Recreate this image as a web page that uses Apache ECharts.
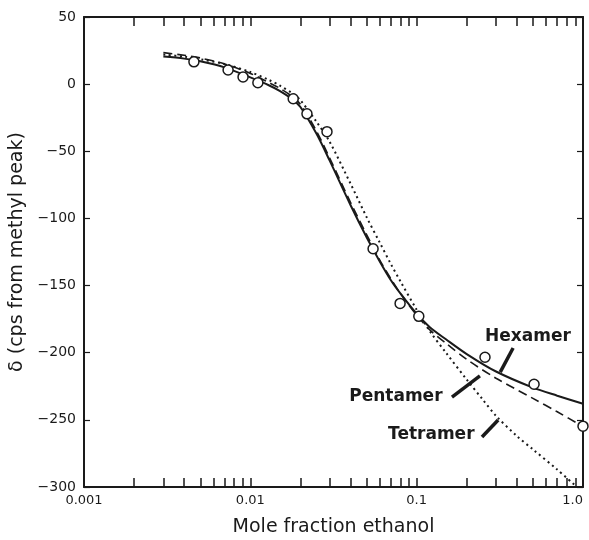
<!DOCTYPE html>
<html>
<head>
<meta charset="utf-8">
<script src="https://cdn.jsdelivr.net/npm/echarts@6/dist/echarts.min.js"></script>
<style>
  html, body { margin: 0; padding: 0; background: #fff; }
  #chart { width: 589px; height: 540px; }
</style>
</head>
<body>
<div id="chart"></div>
<script>
// measured points (open circles)
const obsX = [0.00458, 0.00735, 0.00904, 0.0111, 0.0181, 0.0219, 0.0289, 0.0547, 0.0795, 0.103, 0.2575, 0.508, 1.0]
const obsY = [16.6, 10.6, 5.4, 1.0, -10.9, -22.1, -35.4, -122.6, -163.3, -172.9, -203.4, -223.5, -254.7]

// model curves
const curveX = [0.003, 0.004, 0.005, 0.007, 0.01, 0.013, 0.015, 0.018, 0.02, 0.025, 0.03, 0.04, 0.05, 0.06, 0.07, 0.08, 0.1, 0.12, 0.15, 0.2, 0.3, 0.5, 0.7, 1.0]
const hexamer = [20.5, 19, 17, 12.5, 5, -1, -5, -11.5, -17, -37, -57, -90, -114, -132, -146, -156, -171, -181, -190, -201, -214, -226, -232, -238]
const pentamer = [23.5, 21.5, 19.5, 15, 8, 1, -3, -9.5, -15, -35, -55, -88, -112, -131, -145, -156, -172, -183, -193, -205, -219, -234, -244, -255]
const tetraX = [0.003, 0.004, 0.005, 0.007, 0.01, 0.013, 0.015, 0.018, 0.02, 0.025, 0.03, 0.04, 0.05, 0.06, 0.07, 0.08, 0.1, 0.12, 0.15, 0.2, 0.25, 0.3, 0.4, 0.5, 0.7, 0.9]
const tetramer = [22, 20.5, 18.5, 15, 9, 3, -1, -7, -12, -28, -43, -74, -99, -118, -134, -147, -168, -184, -200, -220, -235, -247, -262, -272, -287, -299]

// axis ticks
const xMinorTicks = [0.002, 0.003, 0.004, 0.005, 0.006, 0.007, 0.008, 0.009, 0.01,
  0.02, 0.03, 0.04, 0.05, 0.06, 0.07, 0.08, 0.09, 0.1,
  0.2, 0.3, 0.4, 0.5, 0.6, 0.7, 0.8, 0.9, 1.0]
const xLabelValues = [0.001, 0.01, 0.1, 1]
const xLabelText = ['0.001', '0.01', '0.1', '1.0']

// curve names and their pointer lines [from, to]
const curveNames = ['Hexamer', 'Pentamer', 'Tetramer']
const nameAnchors = [[0.2576, -188.3], [0.0393, -233.0], [0.0673, -261.3]]
const pointers = [
  [[0.38, -196.5], [0.318, -214.4]],
  [[0.163, -233], [0.24, -217.3]],
  [[0.247, -262.8], [0.309, -250.1]]
]

const font = 'DejaVu Sans'
const ink = '#1a1a1a'

function pairs(xs, ys) {
  return xs.map((x, i) => [x, ys[i]])
}

let chart = echarts.init(document.getElementById('chart'))

const xBase = {
  type: 'log',
  logBase: 10,
  min: 0.001,
  max: 1,
  axisLine: { show: true, onZero: false, lineStyle: { color: ink, width: 2 } },
  splitLine: { show: false },
  minorTick: { show: false }
}
const yBase = {
  type: 'value',
  min: -300,
  max: 50,
  interval: 50,
  axisLine: { show: true, onZero: false, lineStyle: { color: ink, width: 2 } },
  axisTick: { show: true, inside: true, length: 6, lineStyle: { color: ink, width: 1.2 } },
  splitLine: { show: false }
}

chart.setOption({
  animation: false,
  backgroundColor: '#fff',
  grid: { left: 84, right: 6, top: 17, bottom: 53, containLabel: false, outerBoundsMode: 'none' },
  xAxis: [
    Object.assign({}, xBase, {
      position: 'bottom',
      name: 'Mole fraction ethanol',
      nameLocation: 'middle',
      nameGap: 31,
      nameTextStyle: { fontFamily: font, fontSize: 19, color: ink },
      axisTick: { show: true, inside: true, length: 9, customValues: xMinorTicks, lineStyle: { color: ink, width: 1.5 } },
      axisLabel: {
        show: true,
        customValues: xLabelValues,
        fontFamily: font,
        fontSize: 13,
        color: ink,
        margin: 7,
        alignMaxLabel: 'right',
        formatter: v => xLabelText[xLabelValues.findIndex(t => Math.abs(t - v) < v * 1e-6)] || ''
      }
    }),
    Object.assign({}, xBase, {
      position: 'top',
      axisTick: { show: true, inside: true, length: 9, customValues: xMinorTicks, lineStyle: { color: ink, width: 1.5 } },
      axisLabel: { show: false }
    })
  ],
  yAxis: [
    Object.assign({}, yBase, {
      position: 'left',
      name: 'δ (cps from methyl peak)',
      nameLocation: 'middle',
      nameGap: 47,
      nameRotate: 90,
      nameTextStyle: { fontFamily: font, fontSize: 19, color: ink },
      axisLabel: {
        fontFamily: font,
        fontSize: 14,
        color: ink,
        margin: 8,
        formatter: v => String(v).replace('-', '−')
      }
    }),
    Object.assign({}, yBase, {
      position: 'right',
      axisLabel: { show: false }
    })
  ],
  series: [
    {
      name: 'Hexamer',
      type: 'line',
      data: pairs(curveX, hexamer),
      smooth: 0.3,
      symbol: 'none',
      lineStyle: { color: ink, width: 2 },
      markLine: {
        silent: true,
        symbol: ['none', 'none'],
        lineStyle: { color: ink, width: 3.5, type: 'solid' },
        label: { show: false },
        data: pointers.map(p => [{ coord: p[0] }, { coord: p[1] }])
      }
    },
    {
      name: 'Pentamer',
      type: 'line',
      data: pairs(curveX, pentamer),
      smooth: 0.3,
      symbol: 'none',
      lineStyle: { color: ink, width: 1.6, type: [9, 5] }
    },
    {
      name: 'Tetramer',
      type: 'line',
      data: pairs(tetraX, tetramer),
      smooth: 0.3,
      symbol: 'none',
      lineStyle: { color: ink, width: 2, type: [2, 3.5] }
    },
    {
      name: 'Observed',
      type: 'scatter',
      data: pairs(obsX, obsY),
      symbol: 'circle',
      symbolSize: 10,
      z: 5,
      itemStyle: { color: '#fff', borderColor: ink, borderWidth: 1.5, opacity: 1 }
    }
  ]
})

// curve name labels placed in data space
chart.setOption({
  graphic: curveNames.map((name, i) => {
    let p = chart.convertToPixel({ gridIndex: 0 }, nameAnchors[i])
    return {
      type: 'text',
      x: p[0],
      y: p[1],
      style: {
        text: name,
        fontFamily: font,
        fontSize: 17,
        fontWeight: 'bold',
        fill: ink,
        textVerticalAlign: 'middle',
        verticalAlign: 'middle'
      }
    }
  })
})
</script>
</body>
</html>
